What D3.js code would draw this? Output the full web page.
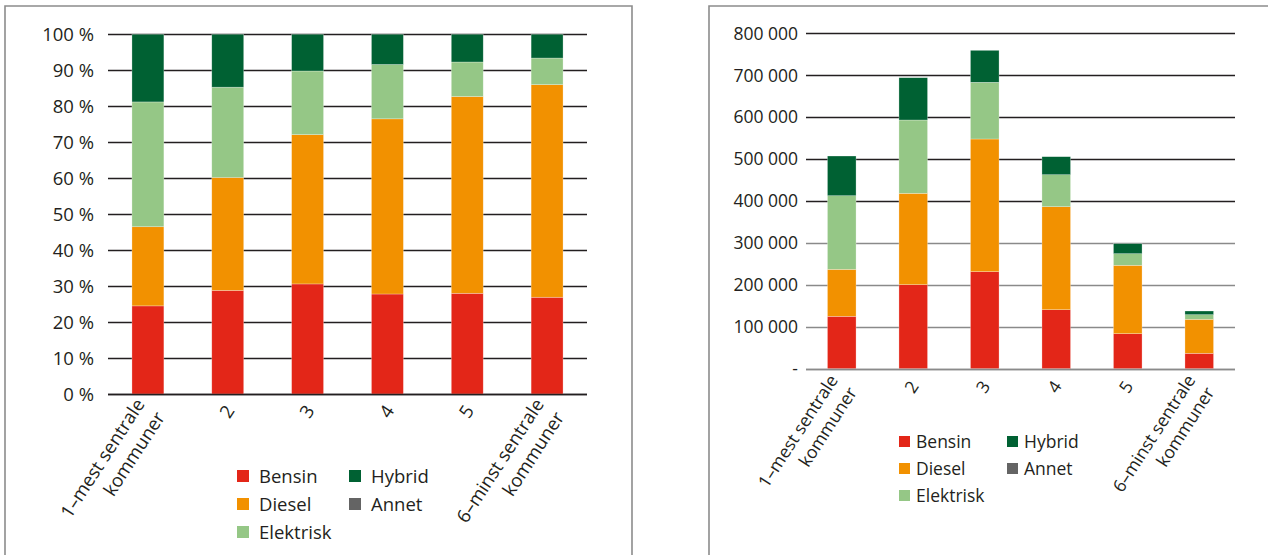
<!DOCTYPE html>
<html>
<head>
<meta charset="utf-8">
<script src="https://cdn.jsdelivr.net/npm/d3@7"></script>
<style>
  html, body { margin: 0; padding: 0; background: #fff; }
  svg { display: block; font-family: "Open Sans", "Noto Sans", sans-serif; }
</style>
</head>
<body>
<svg id="chart" width="1268" height="555"></svg>
<script>
// ---------- data ----------
const categories = [["1–mest sentrale", "kommuner"], ["2"], ["3"], ["4"], ["5"], ["6–minst sentrale", "kommuner"]];
const seriesNames = ["Bensin", "Diesel", "Elektrisk", "Hybrid", "Annet"];
const seriesColors = ["#e32618", "#f29100", "#95c786", "#006133", "#646464"];

// left panel: share of cars (%)
const bensinShare    = [24.5, 28.8, 30.6, 27.8, 28.0, 26.9];
const dieselShare    = [22.0, 31.4, 41.5, 48.7, 54.7, 59.1];
const elektriskShare = [34.7, 25.1, 17.7, 15.1, 9.6, 7.4];
const hybridShare    = [18.8, 14.7, 10.2, 8.4, 7.7, 6.6];
const annetShare     = [0, 0, 0, 0, 0, 0];

// right panel: number of cars
const bensinCount    = [125000, 200400, 231400, 140700, 83500, 36700];
const dieselCount    = [112000, 217900, 316500, 245700, 163100, 81100];
const elektriskCount = [175600, 174900, 135200, 76300, 27700, 11000];
const hybridCount    = [94700, 100900, 76300, 43000, 23900, 8800];
const annetCount     = [0, 0, 0, 0, 0, 0];

const shareTicks = [0, 10, 20, 30, 40, 50, 60, 70, 80, 90, 100];
const countTicks = [0, 100000, 200000, 300000, 400000, 500000, 600000, 700000, 800000];

// ---------- helpers ----------
const svg = d3.select("#chart");

function buildRows(arrays) {
  return categories.map((c, i) => {
    const row = { key: i };
    seriesNames.forEach((s, j) => row[s] = arrays[j][i]);
    return row;
  });
}

function drawPanel(cfg) {
  const g = svg.append("g");
  const x = d3.scaleBand().domain(d3.range(categories.length))
    .range([cfg.x0, cfg.x1]).paddingInner(0.6).paddingOuter(0.3);
  const y = d3.scaleLinear().domain(cfg.domain).range([cfg.yBottom, cfg.yTop]);

  // frame
  g.append("path")
    .attr("d", cfg.frame)
    .attr("fill", "none").attr("stroke", "#8c8c8c").attr("stroke-width", 1.6);

  // gridlines
  g.append("g").selectAll("line").data(cfg.ticks).join("line")
    .attr("x1", cfg.gridX0).attr("x2", cfg.x1)
    .attr("y1", d => Math.round(y(d)) + 0.5).attr("y2", d => Math.round(y(d)) + 0.5)
    .attr("stroke", d => cfg.gridColor(d)).attr("stroke-width", 1.3);

  // y tick labels
  g.append("g").selectAll("text").data(cfg.ticks).join("text")
    .attr("x", cfg.labelX).attr("y", d => y(d)).attr("dy", "0.36em")
    .attr("text-anchor", "end").attr("fill", "#231f20")
    .attr("font-size", cfg.fontSize)
    .text(cfg.format);

  // stacked bars
  const rows = buildRows(cfg.arrays);
  const stack = d3.stack().keys(seriesNames)(rows);
  g.append("g").selectAll("g").data(stack).join("g")
    .attr("fill", (d, i) => seriesColors[i])
    .selectAll("rect").data(d => d.filter(p => p[1] - p[0] > 0)).join("rect")
    .attr("x", d => x(d.data.key))
    .attr("width", x.bandwidth())
    .attr("y", d => y(d[1]))
    .attr("height", d => y(d[0]) - y(d[1]))
    .attr("stroke", "rgba(255,255,255,0.45)").attr("stroke-width", 0.6);

  // baseline redraw
  g.append("line")
    .attr("x1", cfg.gridX0).attr("x2", cfg.x1)
    .attr("y1", Math.round(y(0)) + 0.5).attr("y2", Math.round(y(0)) + 0.5)
    .attr("stroke", cfg.gridColor(0)).attr("stroke-width", 1.3);

  // x labels (rotated)
  const lh = cfg.fontSize * 1.3;
  const lab = g.append("g").selectAll("text").data(categories).join("text")
    .attr("transform", (d, i) =>
      `translate(${x(i) + x.bandwidth() / 2 + cfg.xlabDx},${cfg.yBottom + cfg.xlabDy}) rotate(-57)`)
    .attr("text-anchor", "end").attr("fill", "#231f20")
    .attr("font-size", cfg.fontSize);
  lab.selectAll("tspan").data(d => d.map((t, k) => ({ t, k, n: d.length }))).join("tspan")
    .attr("x", 0)
    .attr("y", d => (d.k - (d.n - 1) / 2) * lh)
    .attr("dy", "0.36em")
    .text(d => d.t);

  // legend
  const order = [0, 1, 2, 3, 4];
  const leg = g.append("g");
  order.forEach(i => {
    const col = i < 3 ? 0 : 1;
    const row = i < 3 ? i : i - 3;
    const lx = cfg.legX + col * cfg.legColW;
    const ly = cfg.legY + row * cfg.legRowH;
    leg.append("rect").attr("x", lx).attr("y", ly - cfg.legSq / 2)
      .attr("width", cfg.legSq).attr("height", cfg.legSq).attr("fill", seriesColors[i]);
    leg.append("text").attr("x", lx + cfg.legTextDx).attr("y", ly).attr("dy", "0.36em")
      .attr("font-size", cfg.fontSize).attr("fill", "#231f20").text(seriesNames[i]);
  });
}

drawPanel({
  arrays: [bensinShare, dieselShare, elektriskShare, hybridShare, annetShare],
  domain: [0, 100], ticks: shareTicks,
  x0: 108, x1: 587, gridX0: 108, yBottom: 394, yTop: 34.3,
  labelX: 94, fontSize: 18.5,
  format: d => d + " %",
  gridColor: () => "#231f20",
  frame: "M5,560 L5,6 L632,6 L632,560",
  xlabDx: 2, xlabDy: 13,
  legX: 237, legY: 476, legRowH: 28, legColW: 112, legSq: 12, legTextDx: 22
});

drawPanel({
  arrays: [bensinCount, dieselCount, elektriskCount, hybridCount, annetCount],
  domain: [0, 800000], ticks: countTicks,
  x0: 806, x1: 1235, gridX0: 806, yBottom: 368.7, yTop: 33.3,
  labelX: 798, fontSize: 17.5,
  format: d => d === 0 ? "-" : d3.format(",")(d).replace(/,/g, " "),
  gridColor: d => d >= 400000 ? "#231f20" : "#8a8a8a",
  frame: "M709,560 L709,6 L1270,6",
  xlabDx: 1, xlabDy: 14,
  legX: 899, legY: 441.5, legRowH: 27, legColW: 108, legSq: 11, legTextDx: 17
});
</script>
</body>
</html>
